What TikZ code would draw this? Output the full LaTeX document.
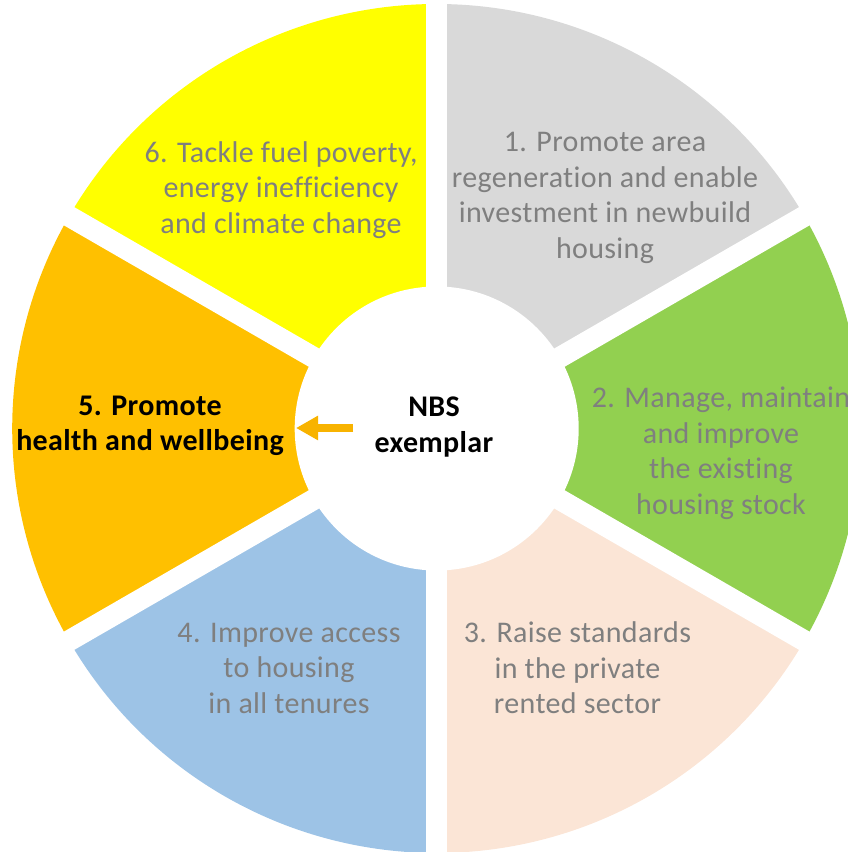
\documentclass[tikz,border=0pt]{standalone}
\usepackage{fontspec}
\setmainfont{Carlito}[Ligatures=NoCommon, LetterSpace=1.2]
\usetikzlibrary{arrows.meta}
\definecolor{segyellow}{HTML}{FFFF00}
\definecolor{seggrey}{HTML}{D9D9D9}
\definecolor{seggreen}{HTML}{92D050}
\definecolor{segpeach}{HTML}{FBE5D6}
\definecolor{segblue}{HTML}{9DC3E6}
\definecolor{segorange}{HTML}{FFC000}
\definecolor{arroworange}{HTML}{F8B300}
\definecolor{labelgrey}{HTML}{7F7F7F}
\tikzset{
  seglabel/.style={align=center, text=labelgrey, inner sep=0pt,
    font=\fontsize{30}{35.5}\selectfont},
  boldlabel/.style={align=center, text=black, inner sep=0pt,
    font=\fontsize{30}{35.5}\selectfont\bfseries},
  gapline/.style={white, line width=21pt},
  pointer/.style={arroworange, line width=8pt, -{Triangle[length=22pt,width=23pt]}}
}
\begin{document}
\begin{tikzpicture}[x=1pt,y=1pt]
\useasboundingbox (0,0) rectangle (848,852);
\clip (0,0) rectangle (848,852);
\coordinate (C) at (436.7,423.5);
\def\R{424.5}
% wedges
\fill[seggreen]  (C) -- ++(-30:\R) arc[start angle=-30, end angle=30, radius=\R] -- cycle;
\fill[seggrey]   (C) -- ++(30:\R) arc[start angle=30, end angle=90, radius=\R] -- cycle;
\fill[segyellow] (C) -- ++(90:\R) arc[start angle=90, end angle=150, radius=\R] -- cycle;
\fill[segorange] (C) -- ++(150:\R) arc[start angle=150, end angle=210, radius=\R] -- cycle;
\fill[segblue]   (C) -- ++(210:\R) arc[start angle=210, end angle=270, radius=\R] -- cycle;
\fill[segpeach]  (C) -- ++(270:\R) arc[start angle=270, end angle=330, radius=\R] -- cycle;
% gaps
\foreach \a in {30,90,150,210,270,330}
  \draw[gapline] (C) -- ++(\a:440);
\fill[white] (C) circle[radius=142];
% labels
\node[seglabel] (t6) at (281,662) {6. Tackle fuel poverty,\\energy inefficiency\\and climate change};
\node[seglabel] (t1) at (605,654.3) {1. Promote area\\regeneration and enable\\investment in newbuild\\housing};
\node[seglabel] (t2) at (721,398.5) {2. Manage, maintain\\and improve\\the existing\\housing stock};
\node[seglabel] (t3) at (577.5,184) {3. Raise standards\\in the private\\rented sector};
\node[seglabel] (t4) at (289,184) {4. Improve access\\to housing\\in all tenures};
\node[boldlabel] (t5) at (150,426) {5. Promote\\health and wellbeing};
\node[boldlabel] (nbs) at (434,425) {NBS\\exemplar};
\coordinate (arrowstart) at (353,424);
\coordinate (arrowend) at (296,424);
\draw[pointer] (arrowstart) -- (arrowend);
\end{tikzpicture}
\end{document}
